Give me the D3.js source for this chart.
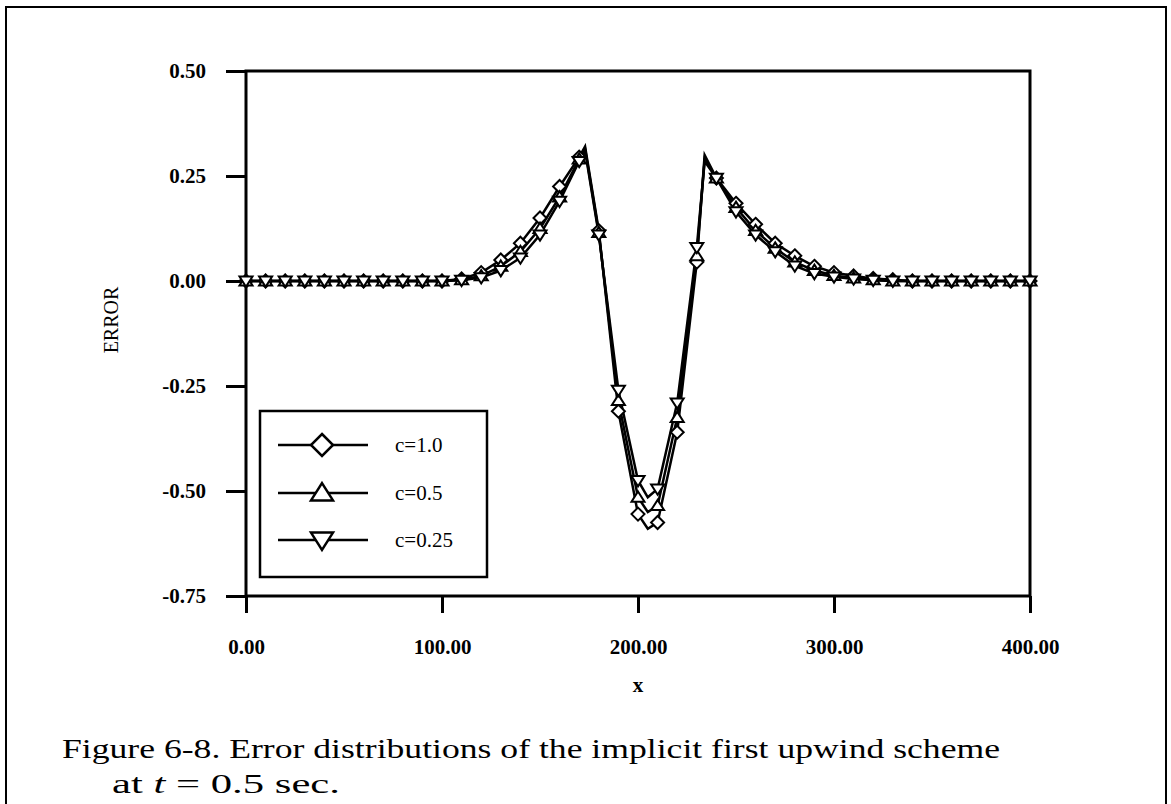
<!DOCTYPE html>
<html lang="en">
<head>
<meta charset="UTF-8">
<title>Error distributions</title>
<script src="https://d3js.org/d3.v7.min.js"></script>
<style>
  body { margin: 0; background: #fff; }
  svg { display: block; }
  .tick text { font-family: "Liberation Serif", serif; font-weight: bold; font-size: 21px; fill: #000; }
</style>
</head>
<body>
<script>
// grid points where the markers sit
var xGrid = [0, 10, 20, 30, 40, 50, 60, 70, 80, 90, 100, 110, 120, 130, 140, 150, 160, 170, 180, 190, 200,
             210, 220, 230, 240, 250, 260, 270, 280, 290, 300, 310, 320, 330, 340, 350, 360, 370, 380, 390, 400];

var c10  = [0, 0, 0, 0, 0, 0, 0, 0, 0, 0, 0, 0.005, 0.02, 0.05, 0.09, 0.15, 0.225, 0.295, 0.12, -0.31, -0.555,
            -0.575, -0.36, 0.045, 0.245, 0.185, 0.135, 0.09, 0.06, 0.035, 0.02, 0.012, 0.006, 0.003, 0, 0, 0, 0, 0, 0, 0];
var c05  = [0, 0, 0, 0, 0, 0, 0, 0, 0, 0, 0, 0.003, 0.012, 0.035, 0.07, 0.125, 0.2, 0.29, 0.115, -0.285, -0.515,
            -0.535, -0.325, 0.06, 0.245, 0.175, 0.12, 0.078, 0.045, 0.025, 0.013, 0.007, 0.003, 0, 0, 0, 0, 0, 0, 0, 0];
var c025 = [0, 0, 0, 0, 0, 0, 0, 0, 0, 0, 0, 0.002, 0.008, 0.025, 0.055, 0.11, 0.19, 0.285, 0.11, -0.26, -0.475,
            -0.495, -0.29, 0.08, 0.245, 0.165, 0.11, 0.07, 0.036, 0.018, 0.01, 0.005, 0.002, 0, 0, 0, 0, 0, 0, 0, 0];

// extra line vertices between grid points (no marker drawn there)
var tipX    = [173, 205, 234];
var tipC10  = [0.32, -0.59, 0.30];
var tipC05  = [0.315, -0.55, 0.29];
var tipC025 = [0.31, -0.515, 0.285];

var seriesNames = ["c=1.0", "c=0.5", "c=0.25"];
var seriesShapes = ["diamond", "up", "down"];

var xTicks = [0, 100, 200, 300, 400];
var xTickLabels = ["0.00", "100.00", "200.00", "300.00", "400.00"];
var yTicks = [-0.75, -0.5, -0.25, 0, 0.25, 0.5];
var yTickLabels = ["-0.75", "-0.50", "-0.25", "0.00", "0.25", "0.50"];

var width = 1171, height = 804;
var plotLeft = 246, plotRight = 1030, plotTop = 71, plotBottom = 596;

var svg = d3.select("body").append("svg")
    .attr("width", width)
    .attr("height", height);

// outer frame of the figure
svg.append("rect")
    .attr("x", 6).attr("y", 7)
    .attr("width", 1160).attr("height", 820)
    .attr("fill", "none").attr("stroke", "#000").attr("stroke-width", 2);

var x = d3.scaleLinear().domain([0, 400]).range([plotLeft, plotRight]);
var y = d3.scaleLinear().domain([-0.75, 0.5]).range([plotBottom, plotTop]);

var xAxis = svg.append("g")
    .attr("transform", "translate(0," + plotBottom + ")")
    .call(d3.axisBottom(x).tickValues(xTicks).tickSize(17)
        .tickFormat(function(d, i) { return xTickLabels[i]; }));
xAxis.select(".domain").remove();
xAxis.selectAll(".tick line").attr("stroke-width", 3);
xAxis.selectAll(".tick text").attr("y", 58).attr("dy", null);

var yAxis = svg.append("g")
    .attr("transform", "translate(" + plotLeft + ",0)")
    .call(d3.axisLeft(y).tickValues(yTicks).tickSize(20).tickPadding(20)
        .tickFormat(function(d, i) { return yTickLabels[i]; }));
yAxis.select(".domain").remove();
yAxis.selectAll(".tick line").attr("stroke-width", 3);

// plot frame
svg.append("rect")
    .attr("x", plotLeft).attr("y", plotTop)
    .attr("width", plotRight - plotLeft).attr("height", plotBottom - plotTop)
    .attr("fill", "none").attr("stroke", "#000").attr("stroke-width", 3);

svg.append("text")
    .attr("x", (plotLeft + plotRight) / 2).attr("y", 692)
    .attr("text-anchor", "middle")
    .attr("font-family", "Liberation Serif").attr("font-weight", "bold").attr("font-size", 21)
    .text("x");

svg.append("text")
    .attr("transform", "translate(118,320) rotate(-90)")
    .attr("text-anchor", "middle")
    .attr("font-family", "Liberation Serif").attr("font-size", 20)
    .text("ERROR");

// series
var allVals = [c10, c05, c025];
var allTips = [tipC10, tipC05, tipC025];

function linePoints(vals, tips) {
    var pts = xGrid.map(function(d, i) { return [d, vals[i]]; });
    tipX.forEach(function(d, i) { pts.push([d, tips[i]]); });
    pts.sort(function(a, b) { return a[0] - b[0]; });
    return pts;
}

var line = d3.line()
    .x(function(d) { return x(d[0]); })
    .y(function(d) { return y(d[1]); });

var plot = svg.append("g");

allVals.forEach(function(vals, k) {
    plot.append("path")
        .datum(linePoints(vals, allTips[k]))
        .attr("d", line)
        .attr("fill", "none")
        .attr("stroke", "#000")
        .attr("stroke-width", 2.5)
        .attr("stroke-linejoin", "miter")
        .attr("stroke-miterlimit", 20);
});

function markerPath(shape, s) {
    if (shape === "diamond") {
        return "M0," + (-s) + "L" + s + ",0L0," + s + "L" + (-s) + ",0Z";
    }
    var h = s * 0.9;
    if (shape === "up") {
        return "M0," + (-h) + "L" + s + "," + (h * 0.75) + "L" + (-s) + "," + (h * 0.75) + "Z";
    }
    return "M0," + h + "L" + s + "," + (-h * 0.75) + "L" + (-s) + "," + (-h * 0.75) + "Z";
}

allVals.forEach(function(vals, k) {
    plot.append("g").selectAll("path")
        .data(xGrid.map(function(d, i) { return [d, vals[i]]; }))
        .enter().append("path")
        .attr("transform", function(d) { return "translate(" + x(d[0]) + "," + y(d[1]) + ")"; })
        .attr("d", markerPath(seriesShapes[k], 6.5))
        .attr("fill", "#fff")
        .attr("stroke", "#000")
        .attr("stroke-width", 2);
});

// legend
var legend = svg.append("g");
legend.append("rect")
    .attr("x", 260).attr("y", 411)
    .attr("width", 227).attr("height", 166)
    .attr("fill", "#fff").attr("stroke", "#000").attr("stroke-width", 2.5);

var rowY = [445, 493, 540];
seriesNames.forEach(function(name, k) {
    legend.append("line")
        .attr("x1", 278).attr("x2", 368)
        .attr("y1", rowY[k]).attr("y2", rowY[k])
        .attr("stroke", "#000").attr("stroke-width", 2.5);
    legend.append("path")
        .attr("transform", "translate(322," + rowY[k] + ")")
        .attr("d", markerPath(seriesShapes[k], 11))
        .attr("fill", "#fff").attr("stroke", "#000").attr("stroke-width", 2.5);
    legend.append("text")
        .attr("x", 395).attr("y", rowY[k] + 7)
        .attr("font-family", "Liberation Serif").attr("font-size", 21)
        .text(name);
});

// caption
var cap = svg.append("g")
    .attr("font-family", "Liberation Serif")
    .attr("font-size", 28);
cap.append("text")
    .attr("x", 62).attr("y", 758)
    .attr("textLength", 938).attr("lengthAdjust", "spacingAndGlyphs")
    .text("Figure 6-8.  Error distributions of the implicit first upwind scheme");
var l2 = cap.append("text").attr("x", 112).attr("y", 793)
    .attr("textLength", 228).attr("lengthAdjust", "spacingAndGlyphs");
l2.append("tspan").text("at ");
l2.append("tspan").attr("font-style", "italic").text("t");
l2.append("tspan").text(" = 0.5 sec.");
</script>
</body>
</html>
